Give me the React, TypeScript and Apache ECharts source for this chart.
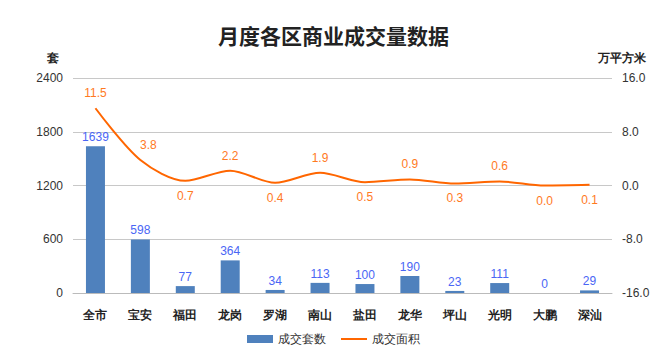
import React, { useEffect, useRef } from "react";
import * as echarts from "echarts";

const categories = ["全市", "宝安", "福田", "龙岗", "罗湖", "南山", "盐田", "龙华", "坪山", "光明", "大鹏", "深汕"];
const units = [1639, 598, 77, 364, 34, 113, 100, 190, 23, 111, 0, 29];
const area = [11.5, 3.8, 0.7, 2.2, 0.4, 1.9, 0.5, 0.9, 0.3, 0.6, 0.0, 0.1];
const areaLabelPos = ["top", "top", "bottom", "top", "bottom", "top", "bottom", "top", "bottom", "top", "bottom", "bottom"];
const areaLabelShift = [0, 8, 0, 0, 0, 0, 0, 0, 0, 0, 0, 0];

export default function App() {
  const ref = useRef<HTMLDivElement>(null);
  useEffect(() => {
    const chart = echarts.init(ref.current!, null, { renderer: "svg" });
    chart.setOption({
      animation: false,
      title: {
        text: "月度各区商业成交量数据",
        left: "center",
        top: 19,
        textStyle: { fontSize: 21, fontWeight: "bold", color: "#222", fontFamily: "Noto Sans CJK SC" },
      },
      legend: {
        bottom: 8,
        left: "center",
        itemGap: 14,
        itemWidth: 26,
        itemHeight: 8,
        textStyle: { fontSize: 12, color: "#333" },
        data: [
          { name: "成交套数", icon: "rect" },
          { name: "成交面积", itemStyle: { opacity: 0 } },
        ],
      },
      grid: { left: 73, right: 55, top: 78, bottom: 65 },
      xAxis: {
        type: "category",
        data: categories,
        axisTick: { show: false },
        axisLine: { lineStyle: { color: "#bbb" } },
        axisLabel: { fontSize: 12, fontWeight: "bold", color: "#222", margin: 16 },
      },
      yAxis: [
        {
          type: "value",
          name: "套",
          nameLocation: "end",
          nameGap: 14,
          nameTextStyle: { fontSize: 12, fontWeight: "bold", color: "#222", align: "right", padding: [0, 14, 0, 0] },
          min: 0,
          max: 2400,
          interval: 600,
          axisLine: { show: false },
          axisTick: { show: false },
          axisLabel: { fontSize: 12, color: "#333", margin: 10, formatter: (v: number) => String(v) },
          splitLine: { lineStyle: { color: "#c8c8c8" } },
        },
        {
          type: "value",
          name: "万平方米",
          nameLocation: "end",
          nameGap: 14,
          nameTextStyle: { fontSize: 12, fontWeight: "bold", color: "#222", align: "left", padding: [0, 0, 0, -14] },
          min: -16,
          max: 16,
          interval: 8,
          axisLine: { show: false },
          axisTick: { show: false },
          axisLabel: { fontSize: 12, color: "#333", margin: 10, formatter: (v: number) => v.toFixed(1) },
          splitLine: { show: false },
        },
      ],
      series: [
        {
          name: "成交套数",
          type: "bar",
          data: units,
          barWidth: 19,
          itemStyle: { color: "#4F81BD" },
          label: { show: true, position: "top", color: "#4A66F5", fontSize: 12, distance: 3 },
        },
        {
          name: "成交面积",
          type: "line",
          yAxisIndex: 1,
          smooth: 0.3,
          symbol: "none",
          data: area,
          lineStyle: { color: "#FF6600", width: 2 },
          itemStyle: { color: "#FF6600" },
        },
        {
          name: "面积标签",
          type: "scatter",
          yAxisIndex: 1,
          symbolSize: 2,
          itemStyle: { color: "rgba(0,0,0,0)" },
          silent: true,
          data: area.map((v, i) => ({
            value: v,
            label: { position: areaLabelPos[i], offset: [areaLabelShift[i], 0] },
          })),
          label: {
            show: true,
            opacity: 1,
            color: "#FF7A1F",
            fontSize: 12,
            distance: 8,
            formatter: (p: any) => Number(p.value).toFixed(1),
          },
        },
      ],
    });
    return () => chart.dispose();
  }, []);
  return <div ref={ref} style={{ position: "absolute", left: 0, top: 0, width: 667, height: 358 }} />;
}
